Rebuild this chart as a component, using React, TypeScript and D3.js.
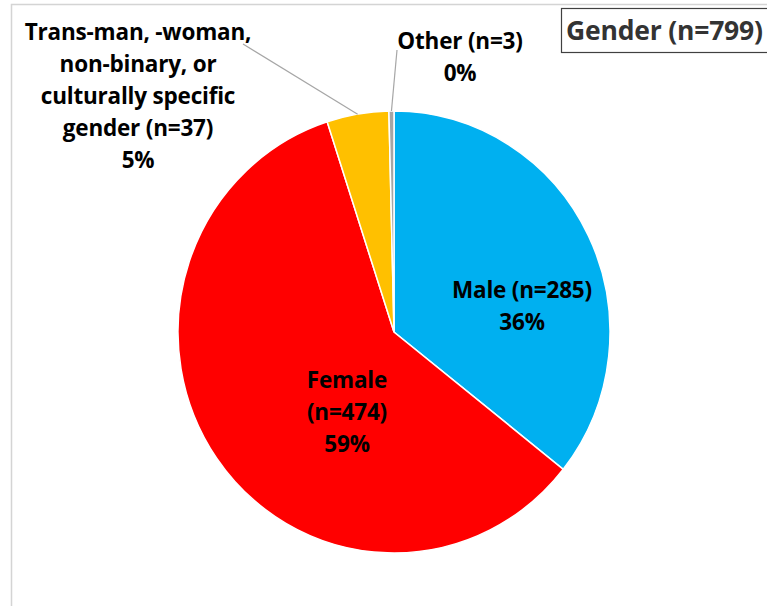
import React, { useRef, useEffect } from 'react';
import * as d3 from 'd3';

// Gender breakdown, clockwise from 12 o'clock
const categories = ['Male', 'Female', 'Trans', 'Other'];
const counts = [285, 474, 37, 3];
const colors = ['#00B0F0', '#FF0000', '#FFC000', '#A5A5A5'];
const labelLines = [
    ['Male (n=285)', '36%'],
    ['Female', '(n=474)', '59%'],
    ['Trans-man, -woman,', 'non-binary, or', 'culturally specific', 'gender (n=37)', '5%'],
    ['Other (n=3)', '0%'],
];
const title = 'Gender (n=799)';

const App = () => {
    const svgRef = useRef<SVGSVGElement>(null);

    useEffect(() => {
        const svg = d3.select(svgRef.current);
        svg.selectAll('*').remove();

        const width = 767;
        const height = 606;
        const cx = 394, cy = 332;
        const rx = 216, ry = 221;
        const font = '"Open Sans", Lato, sans-serif';

        // plot frame (clipped at right and bottom)
        svg.append('rect')
            .attr('x', 11.5).attr('y', 4.5)
            .attr('width', 900).attr('height', 900)
            .attr('fill', 'none')
            .attr('stroke', '#d4d4d4')
            .attr('stroke-width', 1.5);

        const pie = d3.pie<number>().sort(null).value(d => d);
        const arcs = pie(counts);
        const arc = d3.arc<d3.PieArcDatum<number>>().innerRadius(0).outerRadius(rx);

        const g = svg.append('g')
            .attr('transform', `translate(${cx},${cy}) scale(1,${ry / rx})`);

        g.selectAll('path')
            .data(arcs)
            .join('path')
            .attr('d', arc)
            .attr('fill', (d, i) => colors[i])
            .attr('stroke', '#fff')
            .attr('stroke-width', 1.5);

        // point on pie edge at a slice's mid angle
        const edge = (a: d3.PieArcDatum<number>) => {
            const m = (a.startAngle + a.endAngle) / 2;
            return [cx + rx * Math.sin(m), cy - ry * Math.cos(m)];
        };

        // leader lines for the outside labels
        const leaders = [
            { i: 2, from: [243, 44] },
            { i: 3, from: [397, 50] },
        ];
        leaders.forEach(l => {
            const [ex, ey] = edge(arcs[l.i]);
            svg.append('line')
                .attr('x1', l.from[0]).attr('y1', l.from[1])
                .attr('x2', ex).attr('y2', ey)
                .attr('stroke', '#a6a6a6')
                .attr('stroke-width', 1.2);
        });

        // label anchor: centre x, first baseline
        const labelPos = [
            [522, 298],
            [347, 388],
            [138, 40],
            [460, 49],
        ];
        const lineGap = 32;

        labelLines.forEach((lines, i) => {
            const t = svg.append('text')
                .attr('text-anchor', 'middle')
                .attr('font-family', font)
                .attr('font-weight', 'bold')
                .attr('font-size', 22.5)
                .attr('letter-spacing', -0.2)
                .attr('fill', '#000');
            lines.forEach((s, j) => {
                t.append('tspan')
                    .attr('x', labelPos[i][0])
                    .attr('y', labelPos[i][1] + j * lineGap)
                    .text(s);
            });
        });

        // title box
        svg.append('rect')
            .attr('x', 561.5).attr('y', 8.5)
            .attr('width', 250).attr('height', 44)
            .attr('fill', '#fff')
            .attr('stroke', '#404040')
            .attr('stroke-width', 1.2);

        svg.append('text')
            .attr('x', 566)
            .attr('y', 40)
            .attr('font-family', font)
            .attr('font-weight', 'bold')
            .attr('font-size', 26.5)
            .attr('letter-spacing', -0.2)
            .attr('fill', '#333')
            .text(title);

        svg.attr('width', width).attr('height', height);
    }, []);

    return (
        <svg ref={svgRef} width="767" height="606"
            style={{ position: 'absolute', left: 0, top: 0, background: '#fff' }}></svg>
    );
};

export default App;
